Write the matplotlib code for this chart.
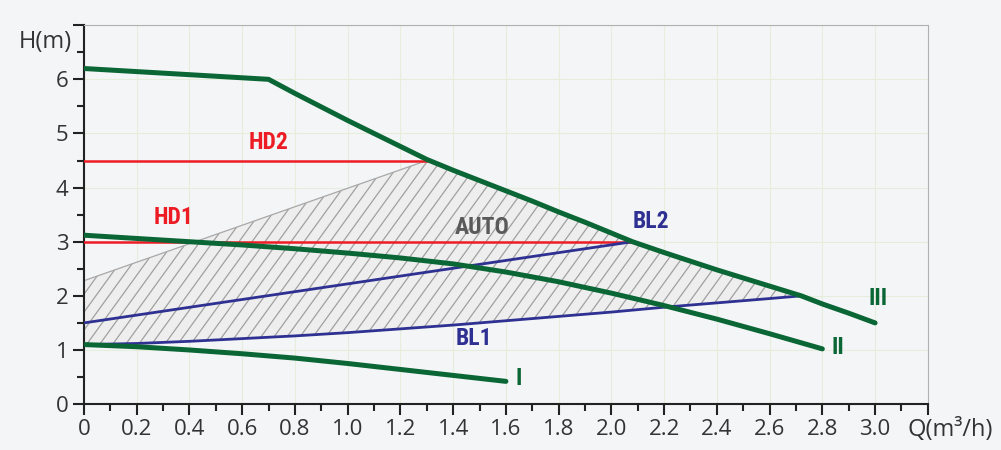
import numpy as np
import matplotlib
matplotlib.use("Agg")
import matplotlib.pyplot as plt
from matplotlib.collections import LineCollection

# ---- DATA ----
q3 = [0, 0.7, 0.8, 0.9, 1.0, 1.1, 1.2, 1.3, 1.4, 1.5, 1.6, 1.7, 1.8, 1.9, 2.0, 2.08,
      2.2, 2.3, 2.4, 2.5, 2.6, 2.72, 2.8, 2.9, 3.0]
h3 = [6.2, 6.0, 5.74, 5.49, 5.24, 5.0, 4.76, 4.52, 4.32, 4.13, 3.94, 3.75, 3.55, 3.36, 3.16, 3.0,
      2.8, 2.64, 2.48, 2.33, 2.18, 2.0, 1.85, 1.68, 1.5]

q2 = [0, 0.2, 0.4, 0.6, 0.8, 1.0, 1.2, 1.4, 1.6, 1.8, 2.0, 2.2, 2.4, 2.6, 2.8]
h2 = [3.12, 3.06, 3.0, 2.94, 2.87, 2.79, 2.7, 2.59, 2.44, 2.26, 2.05, 1.82, 1.57, 1.3, 1.02]

q1 = [0, 0.2, 0.4, 0.6, 0.8, 1.0, 1.2, 1.4, 1.6]
h1 = [1.1, 1.06, 1.0, 0.93, 0.85, 0.75, 0.64, 0.53, 0.42]

bl1_q = [0, 0.2, 0.4, 0.6, 0.8, 1.0, 1.2, 1.4, 1.6, 1.8, 2.0, 2.2, 2.4, 2.6, 2.72]
bl1_h = [1.1, 1.12, 1.16, 1.21, 1.26, 1.32, 1.39, 1.46, 1.54, 1.62, 1.7, 1.79, 1.87, 1.95, 2.0]

bl2_q = [0, 2.08]
bl2_h = [1.5, 3.0]

hd1_q = [0, 2.08]
hd1_h = [3.0, 3.0]
hd2_q = [0, 1.3]
hd2_h = [4.5, 4.5]

auto_q = [0, 1.3]
auto_h = [2.28, 4.5]

GREEN = "#0b6636"
NAVY = "#2e3192"
RED = "#ed1c24"
BG = "#f4f5f7"

plt.rcParams['font.family'] = ['Open Sans', 'DejaVu Sans']

fig = plt.figure(figsize=(10.01, 4.5), dpi=100, facecolor=BG)
ax = fig.add_axes([0.0839, 0.102, 0.843, 0.842])
ax.set_facecolor(BG)

# ---- AUTO hatched region ----
top_q = list(auto_q) + [x for x in q3 if 1.3 < x <= 2.72]
top_h = list(auto_h) + [h for x, h in zip(q3, h3) if 1.3 < x <= 2.72]
poly_q = top_q + bl1_q[::-1]
poly_h = top_h + bl1_h[::-1]
patch = ax.fill(poly_q, poly_h, facecolor="#eeeeee", edgecolor="none", zorder=1)[0]

# diagonal hatch lines, clipped to the region (axes-fraction coords)
step = 13 / 844
run = (379 / 1.38) / 844
starts = np.arange(-run, 1, step)
segs = [[(s, 0), (s + run, 1)] for s in starts]
hatch = LineCollection(segs, colors="#a0a0a0", linewidths=0.9,
                       transform=ax.transAxes, zorder=1.5)
hatch.set_clip_path(patch)
ax.add_collection(hatch)
ax.plot(auto_q, auto_h, color="#a8a8a8", lw=0.9, zorder=2)

# ---- lines ----
ax.plot(hd2_q, hd2_h, color=RED, lw=1.8, zorder=3)
ax.plot(hd1_q, hd1_h, color=RED, lw=1.8, zorder=3)
ax.plot(bl2_q, bl2_h, color=NAVY, lw=2.0, zorder=3)
ax.plot(bl1_q, bl1_h, color=NAVY, lw=2.0, zorder=3)
for q, h in [(q3, h3), (q2, h2), (q1, h1)]:
    ax.plot(q, h, color=GREEN, lw=3.6, solid_capstyle="round", zorder=4)

# ---- labels ----
lab = dict(fontsize=17, fontweight="bold", fontstretch="condensed",
           family=['Roboto Condensed', 'Roboto', 'DejaVu Sans'], ha="center", va="center")
ax.text(0.70, 4.83, "HD2", color=RED, **lab)
ax.text(0.34, 3.44, "HD1", color=RED, **lab)
ax.text(1.51, 3.26, "AUTO", color="#5a5a5a", **lab)
ax.text(2.15, 3.37, "BL2", color=NAVY, **lab)
ax.text(1.48, 1.22, "BL1", color=NAVY, **lab)
ax.text(3.01, 1.96, "III", color=GREEN, **lab)
ax.text(2.86, 1.04, "II", color=GREEN, **lab)
ax.text(1.65, 0.48, "I", color=GREEN, **lab)

# ---- axes ----
ax.set_xlim(0, 3.2)
ax.set_ylim(0, 7)
ax.set_xticks(np.arange(0, 3.21, 0.2))
ax.set_xticks(np.arange(0.1, 3.2, 0.2), minor=True)
xl = ["0"] + ["%.1f" % v for v in np.arange(0.2, 3.01, 0.2)] + [""]
ax.set_xticklabels(xl)
ax.set_yticks(range(0, 8))
ax.set_yticks(np.arange(0.5, 7, 1), minor=True)
ax.set_yticklabels([str(i) for i in range(7)] + [""])
ax.tick_params(which="major", length=8, width=1.5, color="#222222",
               labelsize=16, labelcolor="#333333", pad=3)
ax.tick_params(which="minor", length=5, width=1.5, color="#222222")

ax.grid(True, which="major", color="#e4eedb", lw=0.8)
ax.set_axisbelow(True)
for s in ["left", "bottom"]:
    ax.spines[s].set_color("#222222")
    ax.spines[s].set_linewidth(1.5)
for s in ["top", "right"]:
    ax.spines[s].set_color("#b0b0b0")
    ax.spines[s].set_linewidth(0.8)

fig.text(72 / 1001, 1 - 42 / 450, "H(m)", ha="right", va="center",
         fontsize=17, color="#333333")
fig.text(950 / 1001, 1 - 430 / 450, "Q(m³/h)", ha="center", va="center",
         fontsize=17, color="#333333")

fig.savefig("out.png", dpi=100, facecolor=BG)
